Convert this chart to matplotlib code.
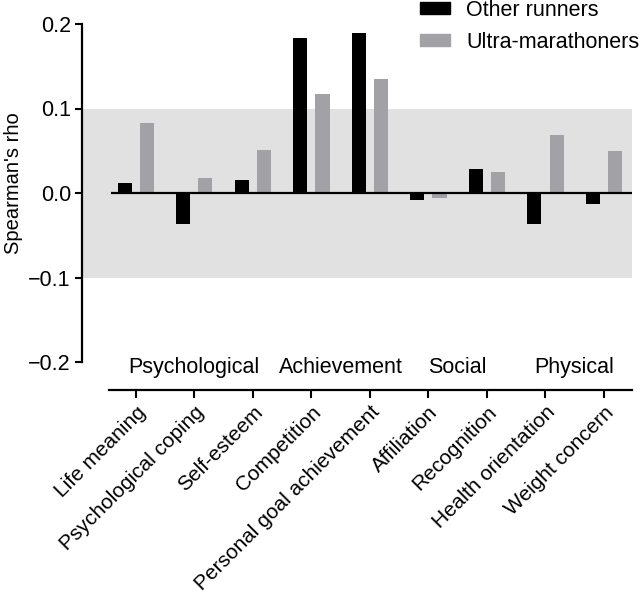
import matplotlib
matplotlib.use("Agg")
import matplotlib.pyplot as plt
import numpy as np
from matplotlib.patches import Patch

plt.rcParams['font.family'] = ['Liberation Sans', 'DejaVu Sans']

categories = ["Life meaning", "Psychological coping", "Self-esteem", "Competition",
              "Personal goal achievement", "Affiliation", "Recognition",
              "Health orientation", "Weight concern"]
other_runners = [0.012, -0.037, 0.015, 0.183, 0.189, -0.008, 0.028, -0.037, -0.013]
ultra_marathoners = [0.083, 0.018, 0.051, 0.117, 0.135, -0.006, 0.025, 0.069, 0.050]
groups = ["Psychological", "Achievement", "Social", "Physical"]
group_centers = [1.0, 3.5, 5.5, 7.5]
yticks = [-0.2, -0.1, 0.0, 0.1, 0.2]

FS = 15.5
W, H = 642, 597
fig = plt.figure(figsize=(W / 100, H / 100), dpi=100)
ax = fig.add_axes([82 / W, 1 - 362 / H, (632 - 82) / W, (362 - 24) / H])

x = np.arange(len(categories))
bw = 0.24
off = 0.19
xmin, xmax = -0.92, 8.48

ax.axhspan(-0.1, 0.1, xmin=0, xmax=1, color='#e1e1e1', zorder=0, lw=0)
ax.bar(x - off, other_runners, width=bw, color='black', zorder=2, label='Other runners')
ax.bar(x + off, ultra_marathoners, width=bw, color='#a2a2a6', zorder=2, label='Ultra-marathoners')
ax.plot([-0.43, xmax], [0, 0], color='black', lw=1.6, zorder=3, solid_capstyle='butt')

ax.set_xlim(xmin, xmax)
ax.set_ylim(-0.2, 0.2)
ax.set_yticks(yticks)
ax.set_yticklabels([f"{v:.1f}".replace('-', '\u2212') for v in yticks], fontsize=FS)
ax.tick_params(axis='y', length=5, width=1.5, pad=3)
ax.set_ylabel("Spearman's rho", fontsize=14.5)
ax.yaxis.set_label_coords(-0.108, 0.53)

for s in ['top', 'right']:
    ax.spines[s].set_visible(False)
ax.spines['left'].set_linewidth(1.6)
ax.spines['bottom'].set_position(('outward', 20.2))
ax.spines['bottom'].set_bounds(-0.46, xmax)
ax.spines['bottom'].set_linewidth(1.6)
ax.set_xticks(x)
ax.set_xticklabels(categories, rotation=45, ha='right', rotation_mode='anchor', fontsize=15)
ax.tick_params(axis='x', length=6, width=1.5, pad=3)

for g, c in zip(groups, group_centers):
    ax.annotate(g, xy=(c, -0.2), xycoords='data', xytext=(0, -4), textcoords='offset points',
                ha='center', va='center', fontsize=FS, annotation_clip=False)

handles = [Patch(color='black'), Patch(color='#a2a2a6')]
fig.legend(handles, ['Other runners', 'Ultra-marathoners'], loc='upper left',
           bbox_to_anchor=(420 / W, 1.0), frameon=False, fontsize=FS,
           handlelength=1.4, handleheight=0.5, handletextpad=0.75,
           labelspacing=0.5, borderpad=0.0, borderaxespad=0.0)

fig.savefig("out.png", dpi=100)
